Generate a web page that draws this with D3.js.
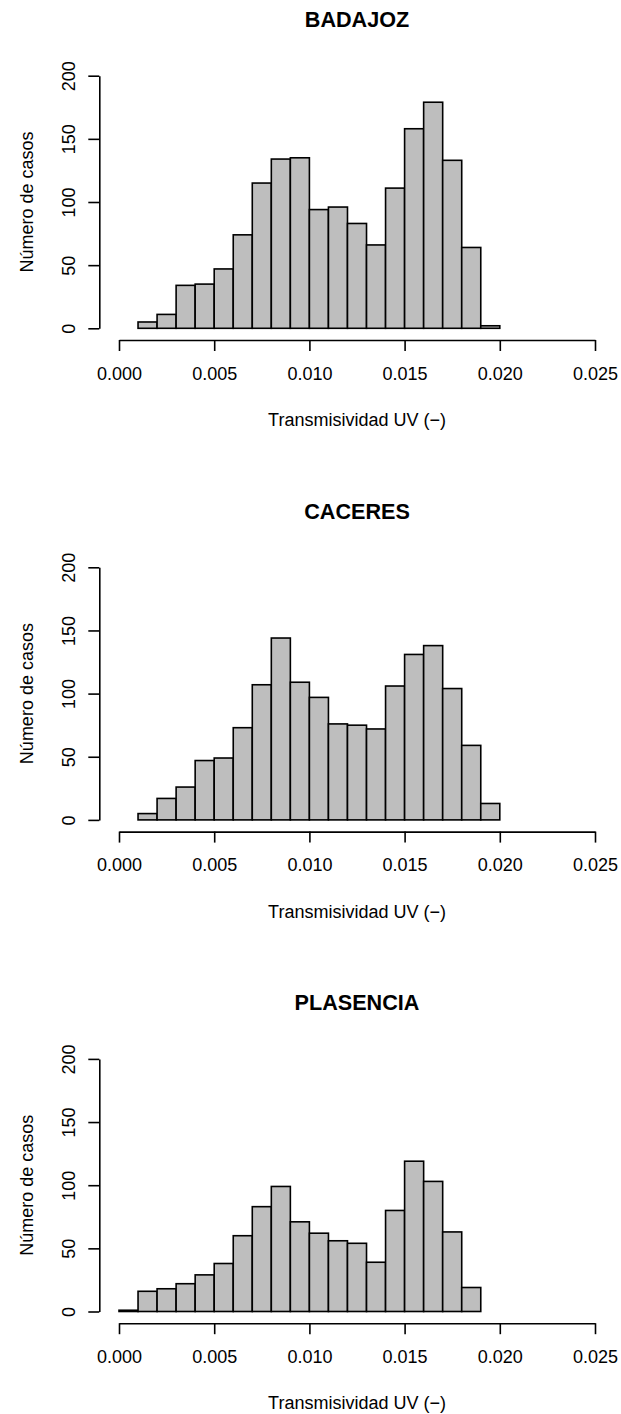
<!DOCTYPE html>
<html>
<head>
<meta charset="utf-8">
<script src="https://cdn.jsdelivr.net/npm/d3@7"></script>
<style>
  html, body { margin: 0; padding: 0; background: #fff; }
  svg { display: block; }
  text { font-family: "Liberation Sans", Arial, Helvetica, sans-serif; fill: #000; }
</style>
</head>
<body>
<script>
// Histogram bin width and shared tick values
const binWidth = 0.001;
const xTicks = [0.000, 0.005, 0.010, 0.015, 0.020, 0.025];
const yTicks = [0, 50, 100, 150, 200];

// Station names (one histogram per station)
const stations = ["BADAJOZ", "CACERES", "PLASENCIA"];

// Left edge of the first bin for each station
const firstBreak = [0.001, 0.001, 0.000];

// Counts per bin of width 0.001, starting at firstBreak
const countsBadajoz   = [5, 11, 34, 35, 47, 74, 115, 134, 135, 94, 96, 83, 66, 111, 158, 179, 133, 64, 2];
const countsCaceres   = [5, 17, 26, 47, 49, 73, 107, 144, 109, 97, 76, 75, 72, 106, 131, 138, 104, 59, 13];
const countsPlasencia = [1, 16, 18, 22, 29, 38, 60, 83, 99, 71, 62, 56, 54, 39, 80, 119, 103, 63, 19];

const allCounts = [countsBadajoz, countsCaceres, countsPlasencia];

const xLabel = "Transmisividad UV (\u2212)";
const yLabel = "Número de casos";

const W = 621, H = 1414;
const panelStep = 491.6;

const svg = d3.select("body").append("svg")
  .attr("width", W).attr("height", H)
  .attr("viewBox", `0 0 ${W} ${H}`);

const x = d3.scaleLinear().domain([0, 0.025]).range([119, 595]);

stations.forEach((name, i) => {
  const off = i * panelStep;
  const g = svg.append("g").attr("transform", `translate(0,${off})`);
  const y = d3.scaleLinear().domain([0, 200]).range([328.3, 75.7]);

  const bins = allCounts[i].map((c, k) => ({
    x0: firstBreak[i] + k * binWidth,
    x1: firstBreak[i] + (k + 1) * binWidth,
    count: c
  }));

  // bars
  g.append("g").selectAll("rect")
    .data(bins)
    .join("rect")
    .attr("x", d => x(d.x0))
    .attr("width", d => x(d.x1) - x(d.x0))
    .attr("y", d => y(d.count))
    .attr("height", d => y(0) - y(d.count))
    .attr("fill", "#bebebe")
    .attr("stroke", "#000")
    .attr("stroke-width", 1.6);

  // x axis
  const xAxis = g.append("g")
    .attr("transform", "translate(0,340)")
    .call(d3.axisBottom(x).tickValues(xTicks).tickFormat(d3.format(".3f"))
      .tickSizeInner(11).tickSizeOuter(0));
  xAxis.select(".domain").attr("stroke-width", 1.6);
  xAxis.selectAll(".tick line").attr("stroke-width", 1.6);
  xAxis.selectAll(".tick text")
    .attr("y", 39.7).attr("dy", null)
    .style("font-size", "18px")
    .style("font-family", "'Liberation Sans', Arial, sans-serif");

  // y axis
  const yAxis = g.append("g")
    .attr("transform", "translate(99.3,0)")
    .call(d3.axisLeft(y).tickValues(yTicks).tickFormat(d3.format("d"))
      .tickSizeInner(11).tickSizeOuter(0));
  yAxis.select(".domain").attr("stroke-width", 1.6);
  yAxis.selectAll(".tick line").attr("stroke-width", 1.6);
  yAxis.selectAll(".tick text")
    .attr("x", 0).attr("y", -24.5).attr("dy", null)
    .attr("transform", "rotate(-90)")
    .attr("text-anchor", "middle")
    .style("font-size", "18px")
    .style("font-family", "'Liberation Sans', Arial, sans-serif");

  // title
  g.append("text")
    .attr("x", 357).attr("y", 27)
    .attr("text-anchor", "middle")
    .style("font-size", "21.6px")
    .style("font-weight", "bold")
    .text(name);

  // x axis title
  g.append("text")
    .attr("x", 357).attr("y", 426)
    .attr("text-anchor", "middle")
    .style("font-size", "18px")
    .text(xLabel);

  // y axis title
  g.append("text")
    .attr("transform", `translate(33.3,${(y(0) + y(200)) / 2}) rotate(-90)`)
    .attr("text-anchor", "middle")
    .style("font-size", "18px")
    .text(yLabel);
});
</script>
</body>
</html>
